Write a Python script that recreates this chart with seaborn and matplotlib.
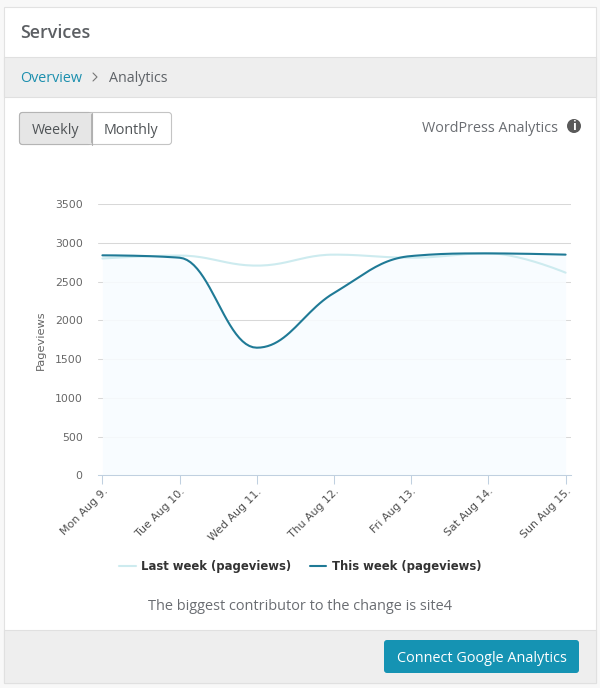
import matplotlib
matplotlib.use("Agg")
import matplotlib.pyplot as plt
from matplotlib.patches import Rectangle, FancyBboxPatch, Circle
import numpy as np
import pandas as pd
import seaborn as sns

days = ["Mon Aug 9.", "Tue Aug 10.", "Wed Aug 11.", "Thu Aug 12.",
        "Fri Aug 13.", "Sat Aug 14.", "Sun Aug 15."]
yticks = [0, 500, 1000, 1500, 2000, 2500, 3000, 3500]
last_week = [2800, 2838, 2708, 2850, 2810, 2867, 2617]
this_week = [2841, 2810, 1648, 2355, 2832, 2866, 2850]
s_last = "Last week (pageviews)"
s_this = "This week (pageviews)"


def spline(xs, ys, n=24):
    """Flatten the chart's spline (Bezier through each point, flat at local extremes)."""
    xs, ys = list(map(float, xs)), list(map(float, ys))
    m = len(xs)
    left, right = [None] * m, [None] * m
    for i in range(m):
        x, y = xs[i], ys[i]
        if 0 < i < m - 1:
            lx, ly = (1.5 * x + xs[i - 1]) / 2.5, (1.5 * y + ys[i - 1]) / 2.5
            rx, ry = (1.5 * x + xs[i + 1]) / 2.5, (1.5 * y + ys[i + 1]) / 2.5
            c = (ry - ly) * (rx - x) / (rx - lx) + y - ry
            ly += c
            ry += c
            if ly > ys[i - 1] and ly > y:
                ly = max(ys[i - 1], y)
                ry = 2 * y - ly
            elif ly < ys[i - 1] and ly < y:
                ly = min(ys[i - 1], y)
                ry = 2 * y - ly
            if ry > ys[i + 1] and ry > y:
                ry = max(ys[i + 1], y)
                ly = 2 * y - ry
            elif ry < ys[i + 1] and ry < y:
                ry = min(ys[i + 1], y)
                ly = 2 * y - ry
            left[i], right[i] = (lx, ly), (rx, ry)
        else:
            left[i] = right[i] = (x, y)
    X, Y = [xs[0]], [ys[0]]
    for i in range(m - 1):
        p0, p1, p2, p3 = (xs[i], ys[i]), right[i], left[i + 1], (xs[i + 1], ys[i + 1])
        for t in np.linspace(0, 1, n + 1)[1:]:
            a, b, c, d = (1 - t) ** 3, 3 * t * (1 - t) ** 2, 3 * t * t * (1 - t), t ** 3
            X.append(a * p0[0] + b * p1[0] + c * p2[0] + d * p3[0])
            Y.append(a * p0[1] + b * p1[1] + c * p2[1] + d * p3[1])
    return np.array(X), np.array(Y)


sns.set_theme(style="white")
UI = "Open Sans"
C_TXT = "#5f6368"
fig = plt.figure(figsize=(6.0, 6.88), dpi=100, facecolor="#f8f8f8")

bg = fig.add_axes([0, 0, 1, 1], zorder=0)
bg.set_xlim(0, 600); bg.set_ylim(688, 0); bg.axis("off")
def rect(x0, y0, x1, y1, fc, ec="none", lw=0, z=1):
    bg.add_patch(Rectangle((x0, y0), x1 - x0, y1 - y0, fc=fc, ec=ec, lw=lw, zorder=z))
def rbox(x0, y0, x1, y1, fc, ec="none", lw=0, r=3, z=2):
    bg.add_patch(FancyBboxPatch((x0 + r, y0 + r), x1 - x0 - 2 * r, y1 - y0 - 2 * r,
                                boxstyle=f"round,pad={r},rounding_size={r}", fc=fc, ec=ec, lw=lw, zorder=z))
rect(3.5, 6.5, 596, 683, "white", "#e2e2e2", 0.8)
rect(4, 56.5, 595.5, 96.5, "#eeeeee", "#e0e0e0", 0.8, z=2)
rect(4, 629.5, 595.5, 682.5, "#eeeeee", "#e0e0e0", 0.8, z=2)
# toggle buttons
rbox(19.5, 112.5, 171.5, 144.5, "white", "#c4c4c4", 0.8)
rbox(19.5, 112.5, 91.5, 144.5, "#e6e6e6", "#b4b4b4", 0.8, z=3)
rect(88, 113, 91.2, 144, "#e6e6e6", z=3)
bg.plot([91.5, 91.5], [112.5, 144.5], color="#b0b0b0", lw=0.8, zorder=4)
# breadcrumb chevron
bg.plot([93, 97, 93], [73, 77, 81], color="#777777", lw=0.8, zorder=4)
# footer button
rbox(384, 640, 579, 673, "#1593b3", r=3)
# info icon
bg.add_patch(Circle((574, 126), 7, fc="#5a5a5a", ec="none", zorder=3))

def t(x, y, s, size, color=C_TXT, ha="left", weight="normal", fam=UI):
    bg.text(x, y, s, fontsize=size, color=color, ha=ha, va="center", family=fam, weight=weight, zorder=5)
t(20.5, 32.5, "Services", 12.9, "#5c5f63", weight="semibold")
t(20.5, 78.5, "Overview", 10.35, "#1b8fae")
t(109, 78.5, "Analytics", 10.3)
t(32, 130.5, "Weekly", 10.3, "#4f5356")
t(104, 130.5, "Monthly", 10.3, "#4f5356")
t(558, 128.5, "WordPress Analytics", 10.35, "#6a6d72", ha="right")
t(574, 126.5, "i", 9, "white", ha="center", weight="bold")
t(300.5, 606.5, "The biggest contributor to the change is site4", 10.45, "#6a6d72", ha="center")
t(481.5, 658, "Connect Google Analytics", 10.35, "white", ha="center")

# chart axes in pixel placement
L, R, T, B = 98, 571, 204.3, 475.3
ax = fig.add_axes([L / 600, 1 - B / 688, (R - L) / 600, (B - T) / 688], zorder=1)
ax.patch.set_alpha(0)

pos = list(range(len(days)))
df = pd.DataFrame({"day": pos * 2,
                   "value": last_week + this_week,
                   "series": [s_last] * len(days) + [s_this] * len(days)})
sns.lineplot(data=df, x="day", y="value", hue="series", hue_order=[s_last, s_this],
             palette=["#cdebef", "#1f7a96"], linewidth=1.5, ax=ax, zorder=4,
             estimator=None, sort=False)
# the reference is a spline series: bend each seaborn line through its own points
for line in ax.get_lines():
    if len(line.get_xdata()):
        line.set_data(*spline(*line.get_data()))
fx, fy = spline(pos, this_week)
ax.fill_between(fx, fy, 0, color="#f8fcff", alpha=0.88, lw=0, zorder=3)

step = 77.2
ax.set_xlim(-(102.4 - L) / step, (R - 102.4) / step)
ax.set_ylim(0, 3500)
ax.set_yticks(yticks)
ax.set_xticks(pos)
ax.set_xticklabels(days, rotation=45, ha="right", rotation_mode="anchor", fontsize=7.9, color="#505050",
                   family="DejaVu Sans")
ax.tick_params(axis="x", length=6.8, width=0.75, color="#c0d0e0", pad=1, bottom=True)
ax.tick_params(axis="y", length=0, labelsize=7.8, labelcolor="#666666", pad=11)
for lab in ax.get_yticklabels():
    lab.set_family("DejaVu Sans")
ax.grid(axis="y", color="#d8d8d8", lw=0.75, zorder=1)
ax.grid(axis="x", visible=False)
ax.set_axisbelow(True)
for k in ["top", "left", "right"]:
    ax.spines[k].set_visible(False)
ax.spines["bottom"].set_color("#c0d0e0")
ax.spines["bottom"].set_linewidth(0.75)
ax.spines["bottom"].set_zorder(5)
ax.set_xlabel("")
ax.set_ylabel("Pageviews", fontsize=8.2, color="#666666", family="DejaVu Sans")
ax.yaxis.set_label_coords((46 - L) / (R - L), 0.5)

h, l = ax.get_legend_handles_labels()
leg = ax.legend(h, l, ncol=2, frameon=False, loc="center", bbox_to_anchor=((300.5 - L) / (R - L), -(566.5 - B) / (B - T)),
                prop={"family": "DejaVu Sans", "weight": "bold", "size": 8.35},
                handlelength=1.4, handletextpad=0.5, columnspacing=1.6, labelcolor="#333333")
fig.savefig("out.png", dpi=100, facecolor=fig.get_facecolor())
